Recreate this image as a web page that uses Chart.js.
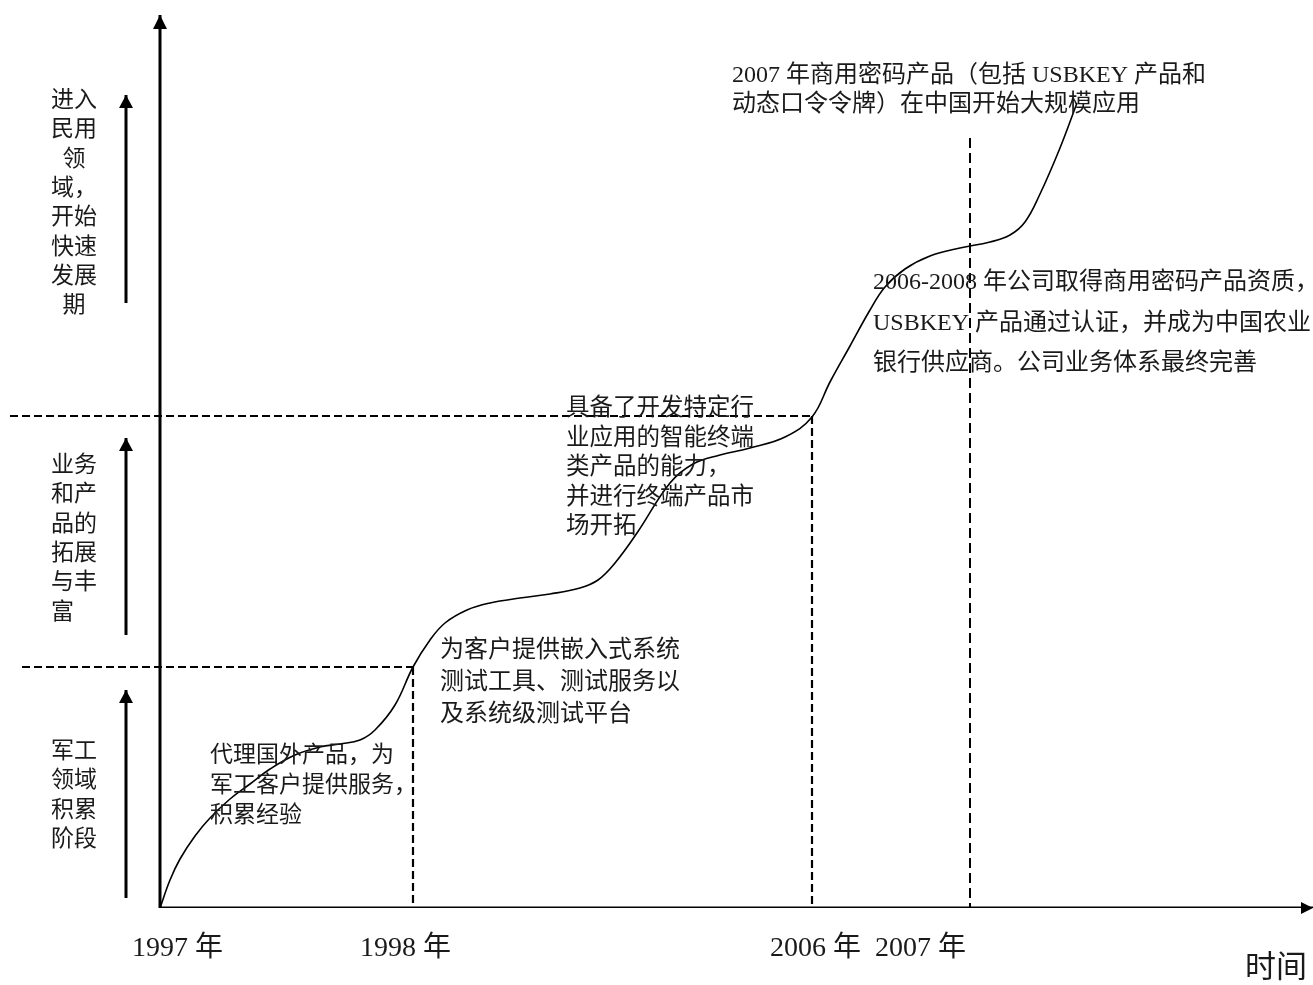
<!DOCTYPE html>
<html>
<head>
<meta charset="utf-8">
<script src="https://cdn.jsdelivr.net/npm/chart.js@4/dist/chart.umd.min.js"></script>
<style>
  html, body { margin: 0; padding: 0; background: #fff; }
  canvas { display: block; }
</style>
</head>
<body>
<canvas id="growthChart" width="1313" height="985"></canvas>
<script>
// 发展曲线（时间单位 / 发展程度单位，读自原图）
const curveX = [0, 1, 2, 3.5, 5, 7, 9, 11, 13.5, 16, 18, 20, 21.5, 23.5, 25.3, 27, 28.5, 30.7, 33, 36, 39, 42, 43.8, 45.5, 47.7, 51, 53.3, 56, 59, 62.5, 65.2, 67, 69, 71, 72.5, 74.5, 77, 80, 83, 85, 86.5, 88, 90, 91.7];
const curveY = [0, 2.8, 4.9, 7.2, 9.0, 10.9, 12.4, 13.9, 15.3, 16.1, 16.4, 16.8, 17.8, 20.3, 24.1, 26.8, 28.5, 29.8, 30.5, 31.0, 31.4, 32.0, 32.8, 34.5, 37.5, 42.5, 44.4, 45.3, 46.0, 47.1, 49.1, 52.6, 56.2, 59.8, 62.1, 63.9, 65.2, 66.0, 66.6, 67.3, 68.6, 71.4, 76.0, 80.5];

// 年份刻度
const years = ['1997 年', '1998 年', '2006 年', '2007 年'];
const yearPos = [0, 25.3, 65.2, 81.0];

// 阶段分界
const stageBounds = [24.1, 49.2];

// 阶段名称（竖排）
const stageNames = [
  ['军工', '领域', '积累', '阶段'],
  ['业务', '和产', '品的', '拓展', '与丰', '富'],
  ['进入', '民用', '领', '域，', '开始', '快速', '发展', '期']
];

// 说明文字
const notes = [
  ['代理国外产品，为', '军工客户提供服务，', '积累经验'],
  ['为客户提供嵌入式系统', '测试工具、测试服务以', '及系统级测试平台'],
  ['具备了开发特定行', '业应用的智能终端', '类产品的能力，', '并进行终端产品市', '场开拓'],
  ['2006-2008 年公司取得商用密码产品资质，', 'USBKEY 产品通过认证，并成为中国农业', '银行供应商。公司业务体系最终完善'],
  ['2007 年商用密码产品（包括 USBKEY 产品和', '动态口令令牌）在中国开始大规模应用']
];
const axisTitle = '时间';

// 版面
const FONT = '"Liberation Serif", "Noto Sans CJK SC", serif';
const guideLeft = [-13.8, -15.0];
const line2007Top = 77.0;
const arrowX = -3.4;
const stageArrows = [[1.0, 21.8], [27.3, 47.0], [60.5, 81.3]];
const stageLayout = [
  { x: 51, y: 752, align: 'left' },
  { x: 51, y: 466, align: 'left' },
  { x: 74, y: 101, align: 'center' }
];
const noteLayout = [
  { x: 210, y: 756, lh: 30, size: 23 },
  { x: 440, y: 651, lh: 32, size: 24 },
  { x: 566, y: 409, lh: 29.5, size: 23.5 },
  { x: 873, y: 283, lh: 40.5, size: 24 },
  { x: 732, y: 76, lh: 29, size: 24 }
];
const yearLabelX = [132, 360, 770, 875];

function seg(x0, y0, x1, y1) {
  return [{ x: x0, y: y0 }, { x: x1, y: y1 }];
}

const datasets = [];

// 曲线
datasets.push({
  data: curveX.map((x, i) => ({ x: x, y: curveY[i] })),
  borderColor: '#000',
  borderWidth: 1.6,
  tension: 0.4,
  pointRadius: 0
});

// 阶段分界虚线
stageBounds.forEach((lvl, i) => {
  datasets.push({
    data: seg(guideLeft[i], lvl, yearPos[i + 1], lvl),
    borderColor: '#000', borderWidth: 2.2, borderDash: [8, 4], pointRadius: 0
  });
  datasets.push({
    data: seg(yearPos[i + 1], lvl, yearPos[i + 1], 0),
    borderColor: '#000', borderWidth: 2.2, borderDash: [8, 4], pointRadius: 0
  });
});
datasets.push({
  data: seg(yearPos[3], line2007Top, yearPos[3], 0),
  borderColor: '#000', borderWidth: 2, borderDash: [10, 5], pointRadius: 0
});

// 坐标轴
datasets.push({
  data: seg(0, 0, 0, 89.3), borderColor: '#000', borderWidth: 3, pointRadius: 0,
  arrowHead: { len: 14, half: 7 }
});
datasets.push({
  data: seg(0, 0, 115.3, 0), borderColor: '#000', borderWidth: 3, pointRadius: 0,
  arrowHead: { len: 12, half: 6 }
});

// 阶段箭头
stageArrows.forEach(a => {
  datasets.push({
    data: seg(arrowX, a[0], arrowX, a[1]), borderColor: '#000', borderWidth: 3, pointRadius: 0,
    arrowHead: { len: 13, half: 7 }
  });
});

const arrowPlugin = {
  id: 'arrowPlugin',
  afterDatasetsDraw(chart) {
    const ctx = chart.ctx;
    chart.data.datasets.forEach((ds, i) => {
      if (!ds.arrowHead) return;
      const pts = chart.getDatasetMeta(i).data;
      const p1 = pts[pts.length - 2], p2 = pts[pts.length - 1];
      const ang = Math.atan2(p2.y - p1.y, p2.x - p1.x);
      const L = ds.arrowHead.len, W = ds.arrowHead.half;
      ctx.save();
      ctx.translate(p2.x, p2.y);
      ctx.rotate(ang);
      ctx.beginPath();
      ctx.moveTo(0, 0);
      ctx.lineTo(-L, -W);
      ctx.lineTo(-L, W);
      ctx.closePath();
      ctx.fillStyle = '#000';
      ctx.fill();
      ctx.restore();
    });
  }
};

const textPlugin = {
  id: 'textPlugin',
  afterDraw(chart) {
    const ctx = chart.ctx;
    ctx.save();
    ctx.fillStyle = '#1a1a1a';
    ctx.textBaseline = 'middle';

    // 阶段名称
    ctx.font = '23px ' + FONT;
    stageNames.forEach((lines, i) => {
      const l = stageLayout[i];
      ctx.textAlign = l.align;
      lines.forEach((t, j) => ctx.fillText(t, l.x, l.y + j * 29.3));
    });

    // 说明文字
    ctx.textAlign = 'left';
    notes.forEach((lines, i) => {
      const l = noteLayout[i];
      ctx.font = l.size + 'px ' + FONT;
      lines.forEach((t, j) => ctx.fillText(t, l.x, l.y + j * l.lh));
    });

    // 年份
    ctx.font = '28px ' + FONT;
    years.forEach((t, i) => ctx.fillText(t, yearLabelX[i], 949));

    // 横轴标题
    ctx.font = '31px ' + FONT;
    ctx.fillText(axisTitle, 1245, 969);
    ctx.restore();
  }
};

const ctx = document.getElementById('growthChart').getContext('2d');
const growthChart = new Chart(ctx, {
  type: 'line',
  data: { datasets: datasets },
  options: {
    responsive: false,
    animation: false,
    layout: { padding: { top: 0, left: 0, right: 0, bottom: 77 } },
    scales: {
      x: { type: 'linear', min: -16, max: 115.3, display: false },
      y: { type: 'linear', min: 0, max: 90.8, display: false }
    },
    elements: { line: { fill: false, borderCapStyle: 'butt' } },
    plugins: { legend: { display: false }, tooltip: { enabled: false } }
  },
  plugins: [arrowPlugin, textPlugin]
});
</script>
</body>
</html>
